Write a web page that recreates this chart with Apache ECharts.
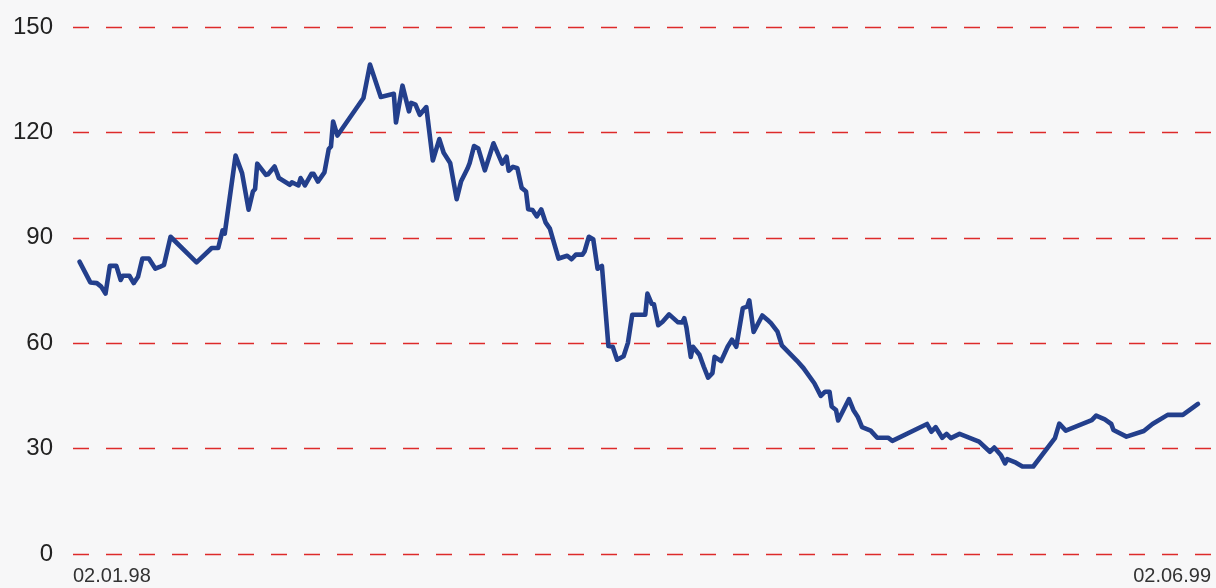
<!DOCTYPE html>
<html>
<head>
<meta charset="utf-8">
<script src="https://cdn.jsdelivr.net/npm/echarts@6/dist/echarts.min.js"></script>
<style>
html,body{margin:0;padding:0;background:#f7f7f8;}
#chart{width:1216px;height:588px;}
</style>
</head>
<body>
<div id="chart"></div>
<script>
// Day offsets from the first date (02.01.98) and the series values
const days = [0,5,8,10,12,14,17,19,20,23,25,27,29,32,35,37,39,42,54,61,64,66,67,72,75,78,80,81,82,86,87,90,92,97,98,101,102,104,107,108,110,113,115,116,117,119,131,134,139,145,146,149,152,153,155,157,160,163,166,168,171,174,176,179,180,182,184,187,191,195,197,198,200,202,204,206,207,209,211,213,215,217,221,225,227,229,232,233,235,237,239,241,244,246,248,251,253,255,261,262,264,265,267,269,272,276,278,279,280,282,283,286,288,290,292,293,296,299,301,303,306,308,309,311,315,318,319,322,324,331,334,339,342,344,346,347,349,350,355,357,359,361,365,368,373,375,391,393,395,398,400,402,406,415,420,422,425,427,428,432,435,440,450,452,455,467,469,473,476,477,483,491,495,502,509,516];
const values = [83.2,77.3,77.1,76.1,74.1,82.0,82.0,78.0,79.2,79.2,77.1,78.9,84.1,84.1,81.2,81.7,82.3,90.3,83.0,87.1,87.1,92.1,91.2,113.4,108.4,98.0,103.2,103.9,111.1,107.9,108.1,110.3,107.0,105.1,105.8,104.9,107.0,104.9,108.2,108.2,106.0,108.6,115.3,116.0,123.1,119.1,129.8,139.3,130.1,131.0,122.8,133.3,126.0,128.4,127.9,125.0,127.2,112.0,118.1,114.2,111.3,101.0,106.0,109.7,111.3,116.1,115.4,109.2,116.9,111.1,113.1,109.1,110.2,109.8,104.2,103.2,98.1,97.9,96.1,98.1,94.4,92.6,84.1,84.9,83.9,85.2,85.2,86.1,90.3,89.6,81.2,82.0,59.2,59.0,55.3,56.3,60.1,68.1,68.1,74.1,71.2,71.1,65.1,66.1,68.2,66.0,65.9,67.1,64.5,56.1,59.0,56.7,53.3,50.2,51.5,56.1,54.9,59.0,61.0,59.0,70.0,70.4,72.2,63.2,67.9,66.3,65.7,63.3,59.4,55.0,52.9,48.6,45.0,46.2,46.2,42.0,41.0,38.0,44.1,41.0,39.1,36.1,35.1,33.1,33.1,32.2,37.0,34.8,36.1,33.1,34.2,33.0,34.2,32.0,29.1,30.3,28.2,25.8,27.0,26.0,24.9,24.9,33.0,37.1,35.1,38.1,39.4,38.3,37.0,35.3,33.4,35.0,37.0,39.6,39.6,42.7];
const xTickLabels = ['02.01.98', '02.06.99'];
const yMin = 0, yMax = 150, yStep = 30;
const xMin = -3, xMax = 522;

const seriesData = days.map((d, i) => [d, values[i]]);

const chart = echarts.init(document.getElementById('chart'), null, {renderer: 'canvas'});
chart.setOption({
  backgroundColor: '#f7f7f8',
  animation: false,
  grid: {left: 73, right: 5, top: 27, bottom: 34, containLabel: false},
  xAxis: {
    type: 'value',
    min: xMin,
    max: xMax,
    splitNumber: 1,
    axisLine: {show: false},
    axisTick: {show: false},
    splitLine: {show: false},
    axisLabel: {
      showMinLabel: true,
      showMaxLabel: true,
      alignMinLabel: 'left',
      alignMaxLabel: 'right',
      margin: 12,
      color: '#333',
      fontSize: 20,
      fontFamily: 'Liberation Sans, Arial, sans-serif',
      formatter: function (v) {
        if (v === xMin) return xTickLabels[0];
        if (v === xMax) return xTickLabels[1];
        return '';
      }
    }
  },
  yAxis: {
    type: 'value',
    min: yMin,
    max: yMax,
    interval: yStep,
    axisLine: {show: false},
    axisTick: {show: false},
    axisLabel: {
      margin: 20,
      color: '#222',
      fontSize: 24,
      fontFamily: 'Liberation Sans, Arial, sans-serif'
    },
    splitLine: {
      show: true,
      lineStyle: {color: '#dd2a2a', width: 1.4, type: [16, 17]}
    }
  },
  series: [{
    type: 'line',
    data: seriesData,
    showSymbol: false,
    symbol: 'none',
    lineStyle: {color: '#233f8c', width: 4.6, join: 'round', cap: 'round'},
    z: 3
  }]
});
</script>
</body>
</html>
